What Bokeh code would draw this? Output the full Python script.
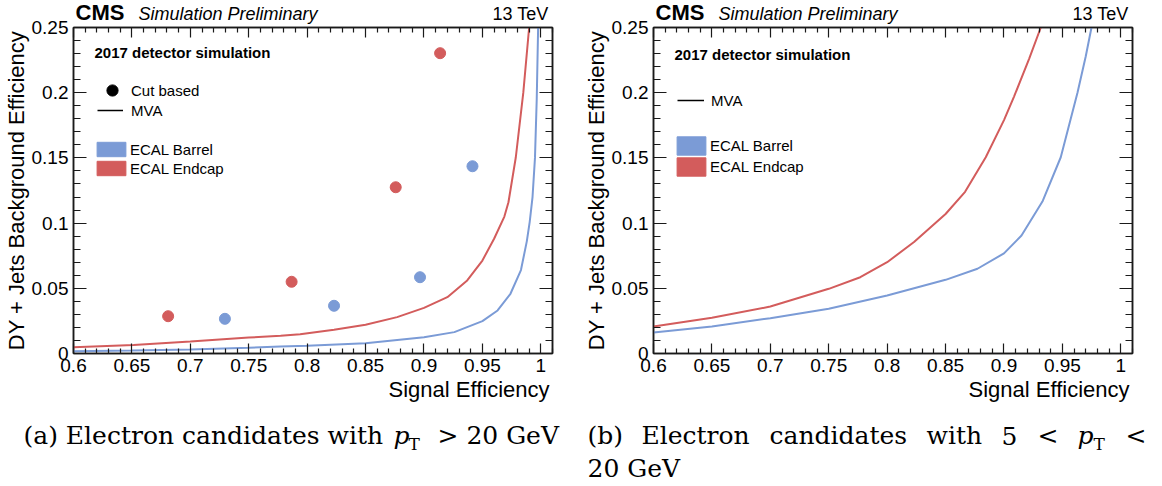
from bokeh.plotting import figure
from bokeh.models import (Range1d, LinearAxis, FixedTicker, CustomJSTickFormatter,
                          Label, Legend, LegendItem, ColumnDataSource, Title)
from bokeh.layouts import row, column
from bokeh.embed import file_html
from bokeh.resources import INLINE

NAN = float("nan")

# ---------------- data ----------------
X_START, X_END = 0.6, 1.01
Y_START, Y_END = 0.0, 0.25
X_TICKS = [0.6, 0.65, 0.7, 0.75, 0.8, 0.85, 0.9, 0.95, 1.0]
X_MINOR = [0.61, 0.62, 0.63, 0.64, 0.66, 0.67, 0.68, 0.69, 0.71, 0.72, 0.73, 0.74,
           0.76, 0.77, 0.78, 0.79, 0.81, 0.82, 0.83, 0.84, 0.86, 0.87, 0.88, 0.89,
           0.91, 0.92, 0.93, 0.94, 0.96, 0.97, 0.98, 0.99, 1.01]
Y_TICKS = [0.0, 0.05, 0.1, 0.15, 0.2, 0.25]
Y_MINOR = [0.01, 0.02, 0.03, 0.04, 0.06, 0.07, 0.08, 0.09, 0.11, 0.12, 0.13, 0.14,
           0.16, 0.17, 0.18, 0.19, 0.21, 0.22, 0.23, 0.24]
X_TITLE = "Signal Efficiency"
Y_TITLE = "DY + Jets Background Efficiency"

# panel (a): pT > 20 GeV
a_cut_barrel_x = [0.7296, 0.8230, 0.8966, 0.9415]
a_cut_barrel_y = [0.0266, 0.0366, 0.0585, 0.1436]
a_cut_endcap_x = [0.6810, 0.7867, 0.8758, 0.9138]
a_cut_endcap_y = [0.0286, 0.0550, 0.1275, 0.2303]

a_mva_barrel_x = [0.60, 0.65, 0.70, 0.75, 0.777, 0.80, 0.85, 0.90, 0.926, 0.95,
                  0.963, 0.974, 0.983, 0.988, 0.9905, 0.9929, 0.9950, 0.9965, 0.9977]
a_mva_barrel_y = [0.0018, 0.0023, 0.0030, 0.0044, 0.0054, 0.0060, 0.0079, 0.0125, 0.0164, 0.0248,
                  0.0330, 0.0458, 0.0640, 0.0860, 0.1010, 0.1200, 0.1500, 0.1950, 0.2500]
a_mva_endcap_x = [0.60, 0.6514, 0.70, 0.75, 0.7773, 0.794, 0.823, 0.85, 0.877, 0.90,
                  0.92, 0.937, 0.95, 0.96, 0.9688, 0.9723, 0.9786, 0.985, 0.99]
a_mva_endcap_y = [0.0048, 0.0066, 0.0092, 0.0122, 0.0136, 0.0148, 0.0182, 0.0220, 0.0279, 0.0350,
                  0.0432, 0.0560, 0.0713, 0.0880, 0.1050, 0.1160, 0.1505, 0.2000, 0.2500]

# panel (b): 5 < pT < 20 GeV
b_mva_barrel_x = [0.60, 0.65, 0.70, 0.75, 0.80, 0.85, 0.8773, 0.90, 0.915, 0.9329,
                  0.9486, 0.9629, 0.970, 0.9749]
b_mva_barrel_y = [0.0161, 0.0207, 0.0271, 0.0343, 0.0445, 0.0565, 0.0650, 0.0768, 0.0905, 0.1165,
                  0.1505, 0.2000, 0.2280, 0.2500]
b_mva_endcap_x = [0.60, 0.65, 0.70, 0.75, 0.777, 0.80, 0.823, 0.85, 0.8667, 0.8844,
                  0.900, 0.9086, 0.9215, 0.9315]
b_mva_endcap_y = [0.0207, 0.0274, 0.0360, 0.0496, 0.0585, 0.0700, 0.0855, 0.1070, 0.1240, 0.1505,
                  0.1790, 0.1970, 0.2260, 0.2500]

# caption texts
CAP_A = ["(a) Electron candidates with", "p", "T", "> 20 GeV"]
CAP_B1 = ["(b)", "Electron", "candidates", "with", "5", "<", "p", "T", "<"]
CAP_B2 = "20 GeV"

# ---------------- style ----------------
SANS = "Liberation Sans"
SERIF = "DejaVu Serif"
FRAME = "#1a1a1a"
BLUE = "#7b9bd6"
RED = "#d35c5c"
HEADER_H = 27
FRAME_H = 326
BOTTOM_H = 56
CAPTION_H = 486 - HEADER_H - FRAME_H - BOTTOM_H


def style_axis(ax, ticks, minors, tin, tmin, labels):
    ax.ticker = FixedTicker(ticks=ticks, minor_ticks=minors)
    ax.major_tick_in = tin
    ax.major_tick_out = 0
    ax.minor_tick_in = tmin
    ax.minor_tick_out = 0
    ax.axis_line_color = FRAME
    ax.axis_line_width = 1.5
    ax.major_tick_line_color = FRAME
    ax.major_tick_line_width = 1.2
    ax.minor_tick_line_color = FRAME
    ax.minor_tick_line_width = 1.2
    if labels:
        ax.formatter = CustomJSTickFormatter(code="return String(parseFloat(tick.toFixed(3)));")
        ax.major_label_text_font = SANS
        ax.major_label_text_font_size = "19px"
        ax.major_label_text_color = "black"
    else:
        ax.formatter = CustomJSTickFormatter(code="return '';")
        ax.major_label_text_font_size = "0px"
        ax.major_label_standoff = 0
        ax.axis_label_standoff = 0


def make_panel(width, border_left, border_right):
    p = figure(width=width, height=HEADER_H + FRAME_H + BOTTOM_H, output_backend="svg",
               toolbar_location=None, title=None,
               x_range=Range1d(X_START, X_END), y_range=Range1d(Y_START, Y_END),
               min_border_left=border_left, min_border_right=border_right,
               min_border_top=HEADER_H, min_border_bottom=BOTTOM_H,
               y_axis_label=Y_TITLE)
    p.grid.visible = False
    p.outline_line_color = FRAME
    p.outline_line_width = 1.5
    p.background_fill_color = "white"
    p.border_fill_alpha = 0.0   # lets the header strip underneath show through
    xb = p.xaxis[0]
    yl = p.yaxis[0]
    xt = LinearAxis()
    yr = LinearAxis()
    p.add_layout(xt, "above")
    p.add_layout(yr, "right")
    style_axis(xb, X_TICKS, X_MINOR, 10, 5, True)
    style_axis(xt, X_TICKS, X_MINOR, 10, 5, False)
    style_axis(yl, Y_TICKS, Y_MINOR, 13, 7, True)
    style_axis(yr, Y_TICKS, Y_MINOR, 13, 7, False)
    xb.major_label_standoff = 5
    yl.major_label_standoff = 5
    yl.axis_label_standoff = 0
    yl.axis_label_text_font = SANS
    yl.axis_label_text_font_size = "22px"
    yl.axis_label_text_font_style = "normal"
    yl.axis_label_text_color = "black"
    p.add_layout(Title(text=X_TITLE, align="right", offset=3, standoff=0,
                       text_font=SANS, text_font_size="22px", text_font_style="normal",
                       text_color="black"), "below")
    return p


def text_strip(width, height):
    p = figure(width=width, height=height, output_backend="svg", toolbar_location=None,
               title=None, x_range=Range1d(0, width), y_range=Range1d(0, height),
               x_axis_type=None, y_axis_type=None, min_border=0)
    p.outline_line_color = None
    p.background_fill_color = "white"
    p.border_fill_color = "white"
    return p


def lab(p, x, y, text, size, style="normal", font=SANS, align="left"):
    # y is the wanted baseline (screen px from bottom); the rendered text sits
    # about 0.35 em lower than asked, so compensate.
    px = float(size.replace("px", ""))
    p.add_layout(Label(x=x, y=y + 0.35 * px, x_units="screen", y_units="screen", text=text,
                       text_font=font, text_font_size=size, text_font_style=style,
                       text_align=align, text_baseline="alphabetic", text_color="black"))


def legend(p, renderer, label, vx, vy, gw, gh, standoff):
    p.add_layout(Legend(items=[LegendItem(label=label, renderers=[renderer])],
                        location=(vx, vy), glyph_width=gw, glyph_height=gh,
                        label_height=gh, label_width=10, label_standoff=standoff,
                        spacing=0, padding=0, margin=0,
                        border_line_alpha=0, background_fill_alpha=0,
                        label_text_font=SANS, label_text_font_size="15px",
                        label_text_color="black"))


def key_renderers(p):
    src = ColumnDataSource(dict(x=[NAN], y=[NAN], l=[NAN], r=[NAN], t=[NAN], b=[NAN]))
    dot = p.scatter("x", "y", source=src, size=11, color="black")
    line = p.line("x", "y", source=src, line_color="black", line_width=1.5)
    blue = p.quad(left="l", right="r", top="t", bottom="b", source=src,
                  fill_color=BLUE, line_color=BLUE)
    red = p.quad(left="l", right="r", top="t", bottom="b", source=src,
                 fill_color=RED, line_color=RED)
    return dot, line, blue, red


def header(width):
    h = text_strip(width, HEADER_H)
    lab(h, 75, 7, "CMS", "22px", "bold")
    lab(h, 138, 7, "Simulation Preliminary", "18px", "italic")
    lab(h, 548, 7, "13 TeV", "18px", align="right")
    return h


# ---------------- panel (a) ----------------
pa = make_panel(580, 73, 28)
pa.line(a_mva_endcap_x, a_mva_endcap_y, line_color=RED, line_width=2)
pa.line(a_mva_barrel_x, a_mva_barrel_y, line_color=BLUE, line_width=2)
pa.scatter(a_cut_endcap_x, a_cut_endcap_y, size=11, color=RED)
pa.scatter(a_cut_barrel_x, a_cut_barrel_y, size=11, color=BLUE)
ka_dot, ka_line, ka_blue, ka_red = key_renderers(pa)
legend(pa, ka_dot, "Cut based", 25, 249, 28, 28, 5)
legend(pa, ka_line, "MVA", 24, 234, 26, 18, 8)
legend(pa, ka_blue, "ECAL Barrel", 20, 195, 36, 18, 1)
legend(pa, ka_red, "ECAL Endcap", 20, 176, 36, 18, 1)
lab(pa, 21, 296, "2017 detector simulation", "15px", "bold")

# ---------------- panel (b) ----------------
pb = make_panel(582, 73, 30)
pb.line(b_mva_endcap_x, b_mva_endcap_y, line_color=RED, line_width=2)
pb.line(b_mva_barrel_x, b_mva_barrel_y, line_color=BLUE, line_width=2)
kb_dot, kb_line, kb_blue, kb_red = key_renderers(pb)
legend(pb, kb_line, "MVA", 24, 244, 27, 18, 7)
legend(pb, kb_blue, "ECAL Barrel", 20, 196, 36, 23, 1)
legend(pb, kb_red, "ECAL Endcap", 20, 175, 36, 23, 1)
lab(pb, 21, 294, "2017 detector simulation", "15px", "bold")

# ---------------- headers ----------------
ha = header(580)
hb = header(582)

# ---------------- captions ----------------
ca = text_strip(580, CAPTION_H)
lab(ca, 23, 42, CAP_A[0], "25px", font=SERIF)
lab(ca, 393, 42, CAP_A[1], "25px", "italic", font=SERIF)
lab(ca, 408, 37, CAP_A[2], "17px", font=SERIF)
lab(ca, 437, 42, CAP_A[3], "25px", font=SERIF)

cb = text_strip(582, CAPTION_H)
cap_b1_x = [7, 61, 189, 346, 421, 457, 497, 513, 545]
for w, x in zip(CAP_B1, cap_b1_x):
    if w == "p":
        lab(cb, x, 42, w, "25px", "italic", font=SERIF)
    elif w == "T":
        lab(cb, x, 37, w, "17px", font=SERIF)
    else:
        lab(cb, x, 42, w, "25px", font=SERIF)
lab(cb, 7, 9, CAP_B2, "25px", font=SERIF)

plots = row(pa, pb, margin=(-HEADER_H, 0, 0, 0))
layout = column(row(ha, hb), plots, row(ca, cb))
open("out.html", "w").write(file_html(layout, INLINE))
